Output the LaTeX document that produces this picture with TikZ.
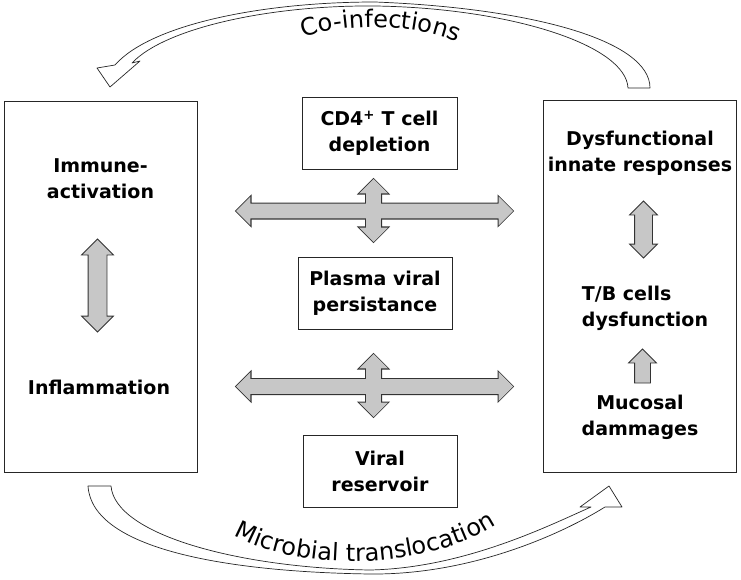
\documentclass[tikz,border=0pt]{standalone}
\usepackage{fontspec}
\setmainfont{DejaVu Sans}
\usepackage{tikz}
\usetikzlibrary{shapes.arrows,decorations.text,calc}

\newcommand{\boxfont}{\bfseries\fontsize{19}{26}\selectfont}
\newcommand{\curvefont}{\fontsize{24}{24}\selectfont}

\tikzset{
  cellbox/.style={draw=black!85, line width=0.8pt, fill=white, align=center, font=\boxfont, inner sep=0pt},
  boxtext/.style={align=center, font=\boxfont, inner sep=0pt},
  arrowgray/.style={fill=black!22},
  dblh/.style={double arrow, draw=black!80, arrowgray, line width=0.8pt, inner sep=7pt, minimum width=0pt, double arrow head extend=7pt},
  dblv/.style={dblh, shape border rotate=90},
  crossline/.style={line width=1.5pt},
  upblock/.style={single arrow, draw=black!80, arrowgray, line width=0.8pt, inner sep=7.5pt, minimum width=0pt, single arrow head extend=6pt, shape border rotate=90},
  curvearrow/.style={draw=black!85, fill=white, line width=0.7pt, line join=round}
}

\begin{document}
\begin{tikzpicture}[x=1pt,y=-1pt]
\useasboundingbox (0,0) rectangle (741,580);

% side boxes
\node[cellbox, minimum width=193pt, minimum height=371pt] (immune) at (100.5,286.5) {};
\node[cellbox, minimum width=193pt, minimum height=372pt] (innate) at (639.5,286) {};
\node[boxtext] (activ) at (100.5,179) {Immune-\\activation};
\node[boxtext] (inflam) at (99,387) {Inflammation};
\node[boxtext] (dysf) at (640,153) {Dysfunctional\\innate responses};
\node[boxtext, align=left] (tbcells) at (645,308) {T/B cells\\dysfunction};
\node[boxtext] (mucosal) at (640,417) {Mucosal\\dammages};

% middle boxes
\node[cellbox, minimum width=155pt, minimum height=72pt] (cd4) at (379.5,133) {CD4\textsuperscript{+} T cell\\depletion};
\node[cellbox, minimum width=154pt, minimum height=72pt] (plasma) at (375,293) {Plasma viral\\persistance};
\node[cellbox, minimum width=154pt, minimum height=72pt] (reservoir) at (380,471) {Viral\\reservoir};

% gray arrows
\node[dblv, minimum height=93pt, inner sep=9pt, double arrow head extend=6.5pt] (leftv) at (97.5,285.5) {};
\node[dblv, minimum height=57pt, inner sep=8.5pt, double arrow head extend=5pt] (rightv) at (643.5,229.5) {};
\node[upblock, minimum height=34pt] (rightup) at (642.5,370) {};

% crosses: outline first, then fill again to merge them
\node[dblh, crossline, minimum height=277pt] (upperh) at (374.5,211) {};
\node[dblv, crossline, minimum height=63pt] (upperv) at (373.5,210.5) {};
\node[dblh, draw=none, minimum height=277pt] (upperhfill) at (upperh.center) {};
\node[dblv, draw=none, minimum height=63pt] (uppervfill) at (upperv.center) {};

\node[dblh, crossline, minimum height=277pt] (lowerh) at (374.5,386.5) {};
\node[dblv, crossline, minimum height=63pt] (lowerv) at (373.5,385.5) {};
\node[dblh, draw=none, minimum height=277pt] (lowerhfill) at (lowerh.center) {};
\node[dblv, draw=none, minimum height=63pt] (lowervfill) at (lowerv.center) {};

% curved arrows
\draw[curvearrow] (650,88) .. controls (650,40) and (530,8) .. (375,2)
  .. controls (260,2) and (150,25) .. (115,65) -- (97,68) -- (110,87) -- (140,61) -- (132,63)
  .. controls (165,28) and (270,5) .. (375,6) .. controls (510,8) and (626,45) .. (628,88) -- cycle;
\draw[curvearrow] (88,486) .. controls (92,550) and (230,572) .. (370,574)
  .. controls (470,575) and (560,535) .. (605,507) -- (622,507) -- (609,486) -- (580,507) -- (591,507)
  .. controls (550,525) and (465,568) .. (370,570) .. controls (240,568) and (115,535) .. (111,486) -- cycle;

\draw[draw=none, postaction={decorate,decoration={text along path,text align=center,text={|\curvefont|Co-infections}}}] (293,43) .. controls (330,22) and (420,20) .. (468,48);
\draw[draw=none, postaction={decorate,decoration={text along path,text align=center,text={|\curvefont|Microbial translocation}}}] (230,533) .. controls (300,575) and (430,570) .. (500,522);
\end{tikzpicture}
\end{document}
